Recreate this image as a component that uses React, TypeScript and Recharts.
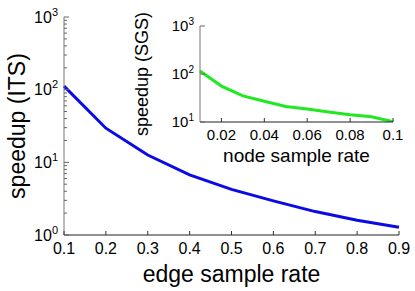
import React from 'react';
import { LineChart, Line, XAxis, YAxis } from 'recharts';

const edgeRates = [0.1, 0.2, 0.3, 0.4, 0.5, 0.6, 0.7, 0.8, 0.9];
const speedupITS = [112, 29.5, 12.6, 6.7, 4.25, 2.95, 2.1, 1.6, 1.28];

const nodeRates = [0.01, 0.02, 0.03, 0.04, 0.05, 0.06, 0.07, 0.08, 0.09, 0.1];
const speedupSGS = [115, 56, 35, 27, 21, 18.6, 16.2, 14.2, 12.9, 10.1];

const mainXTicks = [0.1, 0.2, 0.3, 0.4, 0.5, 0.6, 0.7, 0.8, 0.9];
const mainYTicks = [
  1, 2, 3, 4, 5, 6, 7, 8, 9,
  10, 20, 30, 40, 50, 60, 70, 80, 90,
  100, 200, 300, 400, 500, 600, 700, 800, 900,
  1000,
];
const insetXTicks = [0.02, 0.04, 0.06, 0.08, 0.1];
const insetYTicks = [10, 100, 1000];

const mainData = edgeRates.map((x, i) => ({ x, y: speedupITS[i] }));
const insetData = nodeRates.map((x, i) => ({ x, y: speedupSGS[i] }));

const FONT = '"Liberation Sans", Arial, Helvetica, sans-serif';

const isPow10 = (v: number) => {
  const l = Math.log10(v);
  return Math.abs(l - Math.round(l)) < 1e-9;
};

const makeYTick = (fs: number, supFs: number) => (props: any) => {
  const { x, y, payload } = props;
  const v = payload.value as number;
  const major = isPow10(v);
  const exp = Math.round(Math.log10(v));
  return (
    <g>
      <line x1={x} x2={x + (major ? 5 : 3)} y1={y} y2={y} stroke="#666" strokeWidth={1} />
      {major && (
        <text x={x - 6} y={y} dy={fs * 0.36} textAnchor="end" style={{ fontFamily: FONT, fontSize: fs }} fill="#000">
          <tspan>10</tspan>
          <tspan dy={-fs * 0.45} style={{ fontSize: supFs }}>{exp}</tspan>
        </text>
      )}
    </g>
  );
};

const makeXTick = (fs: number, gap: number) => (props: any) => {
  const { x, y, payload } = props;
  return (
    <g>
      <line x1={x} x2={x} y1={y} y2={y - 4} stroke="#333" strokeWidth={1} />
      <text x={x} y={y + gap} textAnchor="middle" style={{ fontFamily: FONT, fontSize: fs }} fill="#000">
        {String(payload.value)}
      </text>
    </g>
  );
};

const MainYTick = makeYTick(16, 11);
const MainXTick = makeXTick(16, 19);
const InsetYTick = makeYTick(15, 10);
const InsetXTick = makeXTick(15, 18);

export default function App() {
  return (
    <div style={{ position: 'absolute', left: 0, top: 0, width: 415, height: 291, background: '#fff' }}>
      <div style={{ position: 'absolute', left: 0, top: 0 }}>
        <LineChart width={415} height={291} data={mainData} margin={{ top: 17, right: 16, bottom: 0, left: 0 }}>
          <XAxis
            dataKey="x"
            type="number"
            domain={[0.1, 0.9]}
            ticks={mainXTicks}
            tickSize={0}
            tickMargin={0}
            height={56}
            stroke="#222"
            tick={MainXTick}
            interval={0}
            label={{ value: 'edge sample rate', position: 'insideBottom', offset: 9, fontSize: 23, fontFamily: FONT, fill: '#000' }}
          />
          <YAxis
            dataKey="y"
            type="number"
            scale="log"
            domain={[1, 1000]}
            allowDataOverflow
            ticks={mainYTicks}
            tickSize={0}
            tickMargin={0}
            width={64}
            stroke="#777"
            tick={MainYTick}
            interval={0}
            label={{ value: 'speedup (ITS)', angle: -90, position: 'insideLeft', offset: 17, fontSize: 23, fontFamily: FONT, fill: '#000', style: { textAnchor: 'middle' } }}
          />
          <Line dataKey="y" stroke="#0a0ae6" strokeWidth={3} dot={false} isAnimationActive={false} />
        </LineChart>
      </div>
      <div style={{ position: 'absolute', left: 0, top: 0 }}>
        <LineChart width={415} height={291} data={insetData} margin={{ top: 26, right: 22, bottom: 129, left: 140 }}>
          <XAxis
            dataKey="x"
            type="number"
            domain={[0.01, 0.1]}
            ticks={insetXTicks}
            tickSize={0}
            tickMargin={0}
            height={40}
            stroke="#222"
            tick={InsetXTick}
            interval={0}
            label={{ value: 'node sample rate', position: 'insideBottom', offset: 0, fontSize: 19, fontFamily: FONT, fill: '#000' }}
          />
          <YAxis
            dataKey="y"
            type="number"
            scale="log"
            domain={[10, 1000]}
            allowDataOverflow
            ticks={insetYTicks}
            tickSize={0}
            tickMargin={0}
            width={60}
            stroke="#777"
            tick={InsetYTick}
            interval={0}
            label={{ value: 'speedup (SGS)', angle: -90, position: 'insideLeft', offset: 2, fontSize: 18, fontFamily: FONT, fill: '#000', style: { textAnchor: 'middle' } }}
          />
          <Line dataKey="y" stroke="#22e822" strokeWidth={3} dot={false} isAnimationActive={false} />
        </LineChart>
      </div>
    </div>
  );
}
